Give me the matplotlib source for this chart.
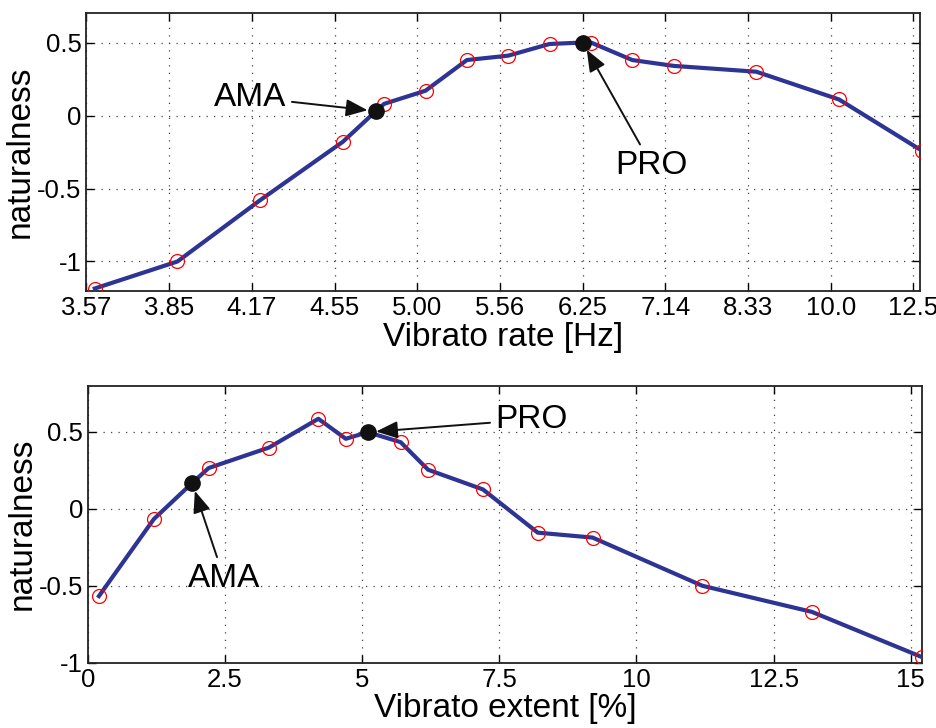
import matplotlib
matplotlib.use('Agg')
import matplotlib.pyplot as plt

plt.rcParams['font.family'] = ['Liberation Sans', 'DejaVu Sans']

# --- top panel: vibrato rate (x stored as period in s, labelled as rate in Hz)
rate_period = [0.278, 0.258, 0.238, 0.218, 0.208, 0.198, 0.188, 0.178,
               0.168, 0.158, 0.148, 0.138, 0.118, 0.098, 0.078]
rate_nat = [-1.185, -1.0, -0.58, -0.18, 0.08, 0.17, 0.38, 0.41,
            0.49, 0.50, 0.38, 0.34, 0.30, 0.11, -0.24]
rate_ama = (0.210, 0.03)
rate_pro = (0.160, 0.50)
rate_tick_pos = [0.28, 0.26, 0.24, 0.22, 0.20, 0.18, 0.16, 0.14, 0.12, 0.10, 0.08]
rate_tick_labels = ['3.57', '3.85', '4.17', '4.55', '5.00', '5.56',
                    '6.25', '7.14', '8.33', '10.0', '12.5']

# --- bottom panel: vibrato extent
ext_x = [0.2, 1.2, 2.2, 3.3, 4.2, 4.7, 5.7, 6.2, 7.2, 8.2, 9.2, 11.2, 13.2, 15.2]
ext_nat = [-0.567, -0.067, 0.265, 0.398, 0.585, 0.455, 0.433, 0.254,
           0.126, -0.155, -0.187, -0.50, -0.67, -0.963]
ext_ama = (1.9, 0.168)
ext_pro = (5.1, 0.498)
ext_ticks = [0, 2.5, 5, 7.5, 10, 12.5, 15]
ext_tick_labels = ['0', '2.5', '5', '7.5', '10', '12.5', '15']

line_color = '#2d3494'


def merged(xs, ys, extra):
    pts = sorted(list(zip(xs, ys)) + list(extra))
    return [p[0] for p in pts], [p[1] for p in pts]


def style_axes(ax):
    ax.grid(True, linestyle=(0, (1, 5)), color='#444444', linewidth=0.9)
    ax.tick_params(direction='in', top=True, right=True, length=6,
                   labelsize=18.5, width=1)
    for s in ax.spines.values():
        s.set_linewidth(1.3)
        s.set_color('#222222')
    ax.set_ylabel('naturalness', fontsize=24, labelpad=1)


fig = plt.figure(figsize=(9.37, 7.28), dpi=100)

ax1 = fig.add_axes([0.0923, 0.6007, 0.8896, 0.381])
lx, ly = merged(rate_period, rate_nat, [rate_ama, rate_pro])
ax1.plot(lx, ly, color=line_color, lw=3, zorder=3)
ax1.plot(rate_period, rate_nat, 'o', mfc='none', mec='red', ms=10, mew=0.9, zorder=4)
ax1.plot([rate_ama[0], rate_pro[0]], [rate_ama[1], rate_pro[1]], 'o',
         color='#111111', ms=11, zorder=5)
ax1.set_xlim(0.28, 0.0784)
ax1.set_ylim(-1.2, 0.7)
ax1.set_xticks(rate_tick_pos)
ax1.set_xticklabels(rate_tick_labels)
ax1.set_yticks([-1, -0.5, 0, 0.5])
ax1.set_yticklabels(['-1', '-0.5', '0', '0.5'])
style_axes(ax1)
ax1.set_xlabel('Vibrato rate [Hz]', fontsize=24, labelpad=2)
arrow = dict(arrowstyle='-|>,head_length=0.55,head_width=0.22', color='#111111',
             lw=1.4, shrinkA=2, shrinkB=6)
ax1.annotate('AMA', xy=rate_ama, xytext=(0.2404, 0.125), fontsize=24,
             ha='center', va='center', arrowprops=arrow, zorder=6)
ax1.annotate('PRO', xy=rate_pro, xytext=(0.1433, -0.34), fontsize=24,
             ha='center', va='center', arrowprops=arrow, zorder=6)

ax2 = fig.add_axes([0.0939, 0.0897, 0.8898, 0.3805])
lx, ly = merged(ext_x, ext_nat, [ext_ama, ext_pro])
ax2.plot(lx, ly, color=line_color, lw=3, zorder=3)
ax2.plot(ext_x, ext_nat, 'o', mfc='none', mec='red', ms=10, mew=0.9, zorder=4)
ax2.plot([ext_ama[0], ext_pro[0]], [ext_ama[1], ext_pro[1]], 'o',
         color='#111111', ms=11, zorder=5)
ax2.set_xlim(0, 15.2)
ax2.set_ylim(-1, 0.8)
ax2.set_xticks(ext_ticks)
ax2.set_xticklabels(ext_tick_labels)
ax2.set_yticks([-1, -0.5, 0, 0.5])
ax2.set_yticklabels(['-1', '-0.5', '0', '0.5'])
style_axes(ax2)
ax2.set_xlabel('Vibrato extent [%]', fontsize=24, labelpad=1)
ax2.annotate('AMA', xy=ext_ama, xytext=(2.48, -0.45), fontsize=24,
             ha='center', va='center', arrowprops=arrow, zorder=6)
ax2.annotate('PRO', xy=ext_pro, xytext=(8.09, 0.58), fontsize=24,
             ha='center', va='center', arrowprops=arrow, zorder=6)

fig.savefig('out.png', dpi=100)
